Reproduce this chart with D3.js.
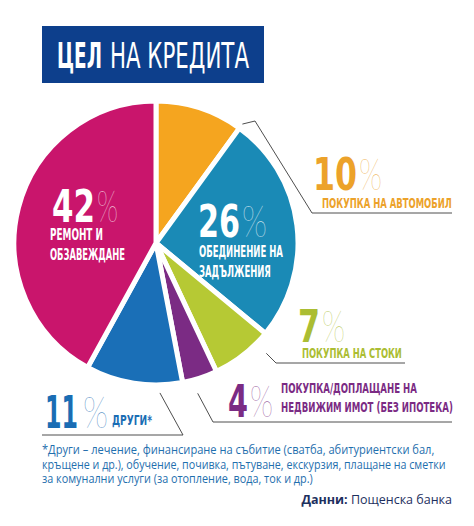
<!DOCTYPE html>
<html>
<head>
<meta charset="utf-8">
<script src="https://cdn.jsdelivr.net/npm/d3@7"></script>
<style>
  html, body { margin: 0; padding: 0; background: #fff; }
  svg { display: block; }
</style>
</head>
<body>
<svg id="chart"></svg>
<script>
// Chart data
const categories = ["Покупка на автомобил", "Обединение на задължения", "Покупка на стоки",
    "Покупка/доплащане на недвижим имот (без ипотека)", "Други*", "Ремонт и обзавеждане"];
const values = [10, 26, 7, 4, 11, 42];
const sliceColors = ["#f5a51f", "#1a8ab6", "#b6c934", "#7b2b84", "#1a6fb7", "#c9156c"];
const textColors = ["#eca22a", "#ffffff", "#abbd33", "#7b2b84", "#1a6db4", "#ffffff"];

const footnoteLines = [
    "*Други – лечение, финансиране на събитие (сватба, абитуриентски бал,",
    "кръщене и др.), обучение, почивка, пътуване, екскурзия, плащане на сметки",
    "за комунални услуги (за отопление, вода, ток и др.)"
];

const width = 474;
const height = 526;
const cx = 156, cy = 243, radius = 142;

const condensed = "'Liberation Sans Narrow', 'DejaVu Sans Condensed', 'Roboto Condensed', sans-serif";
const thin = "Lato, Roboto, 'Open Sans', sans-serif";

const svg = d3.select("#chart")
    .attr("width", width)
    .attr("height", height);

// squeeze a text into a given width with a horizontal scale
function fitText(sel, x, y, w) {
    sel.attr("x", 0).attr("y", 0);
    const natural = sel.node().getComputedTextLength() || w;
    sel.attr("transform", `translate(${x},${y}) scale(${w / natural},1)`);
    return sel;
}

// Title box
svg.append("rect")
    .attr("x", 42).attr("y", 26)
    .attr("width", 222).attr("height", 57)
    .attr("fill", "#0d3f8c");

fitText(svg.append("text")
    .attr("font-family", condensed)
    .attr("font-weight", "bold")
    .attr("font-size", 35)
    .attr("fill", "#fff")
    .text("ЦЕЛ"), 57, 68, 45);
fitText(svg.append("text")
    .attr("font-family", condensed)
    .attr("font-weight", 300)
    .attr("font-size", 35)
    .attr("fill", "#fff")
    .text("НА КРЕДИТА"), 110, 68, 139);

// Pie
const pie = d3.pie().sort(null).value(d => d)
    .startAngle(0).endAngle(2 * Math.PI);
const arc = d3.arc().innerRadius(0).outerRadius(radius);

const pieG = svg.append("g").attr("transform", `translate(${cx},${cy})`);
pieG.selectAll("path.slice")
    .data(pie(values))
    .enter()
    .append("path")
    .attr("class", "slice")
    .attr("d", arc)
    .attr("fill", (d, i) => sliceColors[i])
    .attr("stroke", "#fff")
    .attr("stroke-width", 5)
    .attr("stroke-linejoin", "miter");

// point on a circle around the pie center, angle in degrees clockwise from 12 o'clock
function pointAt(deg, r) {
    const a = deg * Math.PI / 180;
    return [cx + r * Math.sin(a), cy - r * Math.cos(a)];
}

// Leader lines
const leaders = [
    [pointAt(36, 147), [255, 121], [312, 213], [452, 213]],
    [pointAt(135, 156), [276, 363], [405, 363]],
    [pointAt(164.5, 156), [213, 422], [452, 422]],
    [pointAt(178.5, 150), [183, 435], [42, 435]]
];
svg.selectAll("path.leader")
    .data(leaders)
    .enter()
    .append("path")
    .attr("class", "leader")
    .attr("d", d3.line())
    .attr("fill", "none")
    .attr("stroke", "#3a3a3a")
    .attr("stroke-width", 0.9);

// Label layout: number box, percent box, text lines
const labelLayout = [
    { nx: 313, nw: 44, px: 359, pw: 23, base: 190, lines: [["ПОКУПКА НА АВТОМОБИЛ", 322, 208, 130]], fs: 14 },
    { nx: 198, nw: 42, px: 242, pw: 25, base: 237, lines: [["ОБЕДИНЕНИЕ НА", 199, 257, 84], ["ЗАДЪЛЖЕНИЯ", 199, 277, 72]], fs: 16 },
    { nx: 298, nw: 22, px: 322, pw: 23, base: 342, lines: [["ПОКУПКА НА СТОКИ", 302, 358, 100]], fs: 14 },
    { nx: 228, nw: 20, px: 250, pw: 23, base: 417, lines: [["ПОКУПКА/ДОПЛАЩАНЕ НА", 281, 393, 136], ["НЕДВИЖИМ ИМОТ (БЕЗ ИПОТЕКА)", 281, 412, 172]], fs: 14 },
    { nx: 45, nw: 33, px: 83, pw: 25, base: 428, lines: [["ДРУГИ*", 112, 425, 40]], fs: 14 },
    { nx: 52, nw: 43, px: 97, pw: 21, base: 222, lines: [["РЕМОНТ И", 50, 240, 53], ["ОБЗАВЕЖДАНЕ", 50, 260, 75]], fs: 16 }
];

const labels = svg.selectAll("g.label")
    .data(values)
    .enter()
    .append("g")
    .attr("class", "label");

labels.each(function (d, i) {
    const L = labelLayout[i];
    const g = d3.select(this);

    fitText(g.append("text")
        .attr("font-family", condensed)
        .attr("font-weight", "bold")
        .attr("font-size", 44)
        .attr("fill", textColors[i])
        .text(d), L.nx, L.base, L.nw);

    fitText(g.append("text")
        .attr("font-family", thin)
        .attr("font-weight", 100)
        .attr("font-size", 44)
        .attr("fill", textColors[i])
        .text("%"), L.px, L.base, L.pw);

    L.lines.forEach(l => {
        fitText(g.append("text")
            .attr("class", "cat")
            .attr("font-family", condensed)
            .attr("font-weight", "bold")
            .attr("font-size", L.fs)
            .attr("fill", textColors[i])
            .text(l[0]), l[1], l[2], l[3]);
    });
});

// Footnote
const footWidths = [393, 404, 271];
svg.selectAll("text.foot")
    .data(footnoteLines)
    .enter()
    .append("text")
    .attr("class", "foot")
    .attr("font-family", "'Open Sans', sans-serif")
    .attr("font-size", 12)
    .attr("fill", "#1f6fae")
    .text(d => d)
    .each(function (d, i) {
        fitText(d3.select(this), 42, 454 + i * 14.5, footWidths[i]);
    });

// Source
const src = svg.append("text")
    .attr("x", 452).attr("y", 504)
    .attr("text-anchor", "end")
    .attr("font-family", "'Open Sans', sans-serif")
    .attr("font-size", 12.5)
    .attr("fill", "#1d2f5e");
src.append("tspan").attr("font-weight", "bold").text("Данни: ");
src.append("tspan").text("Пощенска банка");
</script>
</body>
</html>
